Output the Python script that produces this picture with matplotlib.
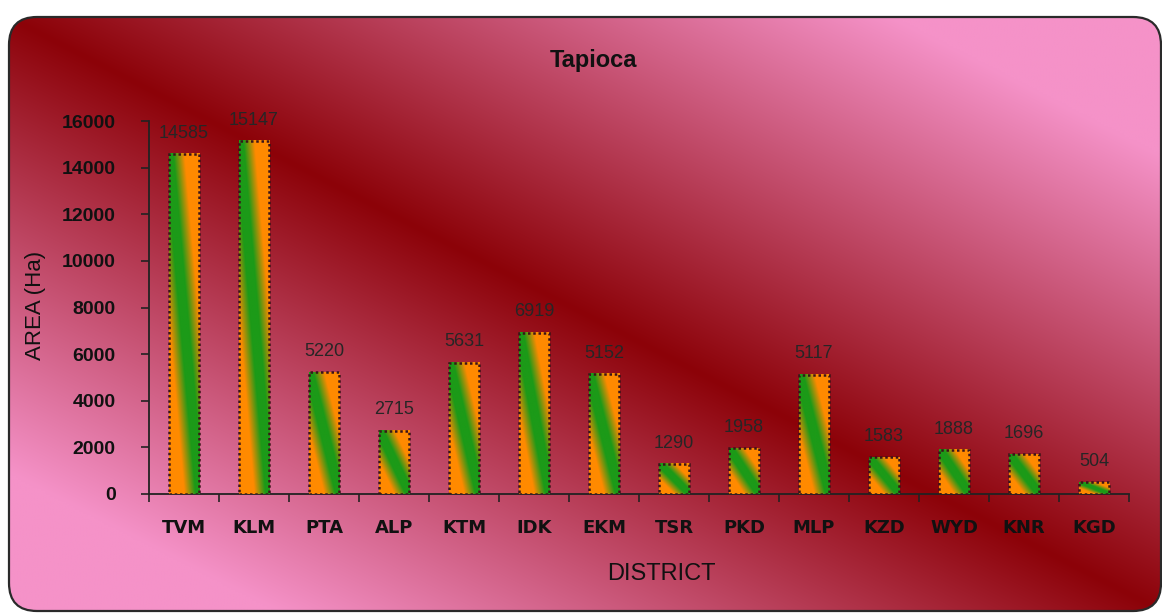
import numpy as np
import matplotlib
matplotlib.use("Agg")
import matplotlib.pyplot as plt
from matplotlib.patches import FancyBboxPatch
from matplotlib.colors import to_rgb

# ---------------- data ----------------
districts = ["TVM", "KLM", "PTA", "ALP", "KTM", "IDK", "EKM",
             "TSR", "PKD", "MLP", "KZD", "WYD", "KNR", "KGD"]
area_ha = [14585, 15147, 5220, 2715, 5631, 6919, 5152,
           1290, 1958, 5117, 1583, 1888, 1696, 504]
y_ticks = [0, 2000, 4000, 6000, 8000, 10000, 12000, 14000, 16000]
title = "Tapioca"
x_title = "DISTRICT"
y_title = "AREA (Ha)"

# ---------------- figure ----------------
W, H = 1162, 613
fig = plt.figure(figsize=(W / 100, H / 100), dpi=100)
fig.patch.set_facecolor("white")

# background rounded panel with diagonal gradient
bg = fig.add_axes([0, 0, 1, 1], zorder=-5)
bg.set_xlim(0, W)
bg.set_ylim(0, H)
bg.axis("off")
rx, ry, rw, rh = 9, 2, 1152, 594
panel = FancyBboxPatch((rx, ry), rw, rh, boxstyle="round,pad=0,rounding_size=28",
                       facecolor="none", edgecolor="#2a2a2a", linewidth=1.6, zorder=3)
bg.add_patch(panel)
nu, nv = 600, 320
u = np.linspace(0, 1, nu)[None, :]
v = np.linspace(0, 1, nv)[:, None]
d = np.abs(u - v)
dark = np.array(to_rgb("#8c0208"))
pink = np.array(to_rgb("#f592c8"))
t = np.clip(d * 1.3, 0, 1)[..., None]
img = dark + (pink - dark) * t
im = bg.imshow(img, extent=(rx, rx + rw, ry, ry + rh), origin="upper",
               aspect="auto", interpolation="bilinear", zorder=1)
clip_patch = FancyBboxPatch((rx, ry), rw, rh, boxstyle="round,pad=0,rounding_size=28",
                            transform=bg.transData, facecolor="none", edgecolor="none")
bg.add_patch(clip_patch)
im.set_clip_path(clip_patch)

# ---------------- main axes ----------------
ax = fig.add_axes([149 / W, 119 / H, 980 / W, 373 / H])
ax.set_facecolor("none")
x = np.arange(len(districts))
bars = ax.bar(x, area_ha, width=0.43, facecolor="none", edgecolor="#3a1418",
              linewidth=1.8, linestyle=(0, (1, 1.1)), zorder=4)

orange = np.array(to_rgb("#ff8a00"))
green = np.array(to_rgb("#1c9a18"))
gu = np.linspace(0, 1, 60)[None, :]
gv = np.linspace(1, 0, 200)[:, None]  # top row = top of bar
gd = np.clip((np.abs(gu + gv - 1) - 0.14) / 0.36, 0, 1)[..., None]
bar_img = green + (orange - green) * gd
for b in bars:
    x0, y0 = b.get_x(), b.get_y()
    ax.imshow(bar_img, extent=(x0, x0 + b.get_width(), y0, y0 + b.get_height()),
              origin="upper", aspect="auto", interpolation="bilinear", zorder=3)

for xi, val in zip(x, area_ha):
    ax.annotate(str(val), (xi, val), xytext=(0, 15), textcoords="offset points",
                ha="center", va="center", fontsize=13, color="#262626",
                family="Liberation Sans")

ax.set_xlim(-0.5, len(districts) - 0.5)
ax.set_ylim(0, 16000)
ax.set_yticks(y_ticks)
ax.set_yticklabels([str(t) for t in y_ticks], fontsize=14, fontweight="bold",
                   family="Liberation Sans", color="#111111")
ax.set_xticks(x)
ax.set_xticklabels(districts, fontsize=13, fontweight="bold", family="DejaVu Sans",
                   color="#111111")
ax.set_xticks(np.arange(len(districts) + 1) - 0.5, minor=True)
ax.tick_params(axis="x", which="major", length=0, pad=18)
ax.tick_params(axis="x", which="minor", length=6, width=1.2, color="#222222", direction="out")
ax.tick_params(axis="y", which="major", length=6, width=1.2, color="#222222",
               direction="out", pad=18)
for s in ["top", "right"]:
    ax.spines[s].set_visible(False)
for s in ["left", "bottom"]:
    ax.spines[s].set_color("#222222")
    ax.spines[s].set_linewidth(1.3)

fig.text(593 / W, 1 - 60 / H, title, ha="center", va="center", fontsize=17,
         fontweight="bold", family="Liberation Sans", color="#111111")
fig.text(661 / W, 1 - 574 / H, x_title, ha="center", va="center", fontsize=17,
         family="Liberation Sans", color="#111111")
fig.text(35 / W, 1 - 305 / H, y_title, ha="center", va="center", fontsize=16,
         rotation=90, family="Liberation Sans", color="#111111")

fig.savefig("out.png", dpi=100, facecolor="white")
